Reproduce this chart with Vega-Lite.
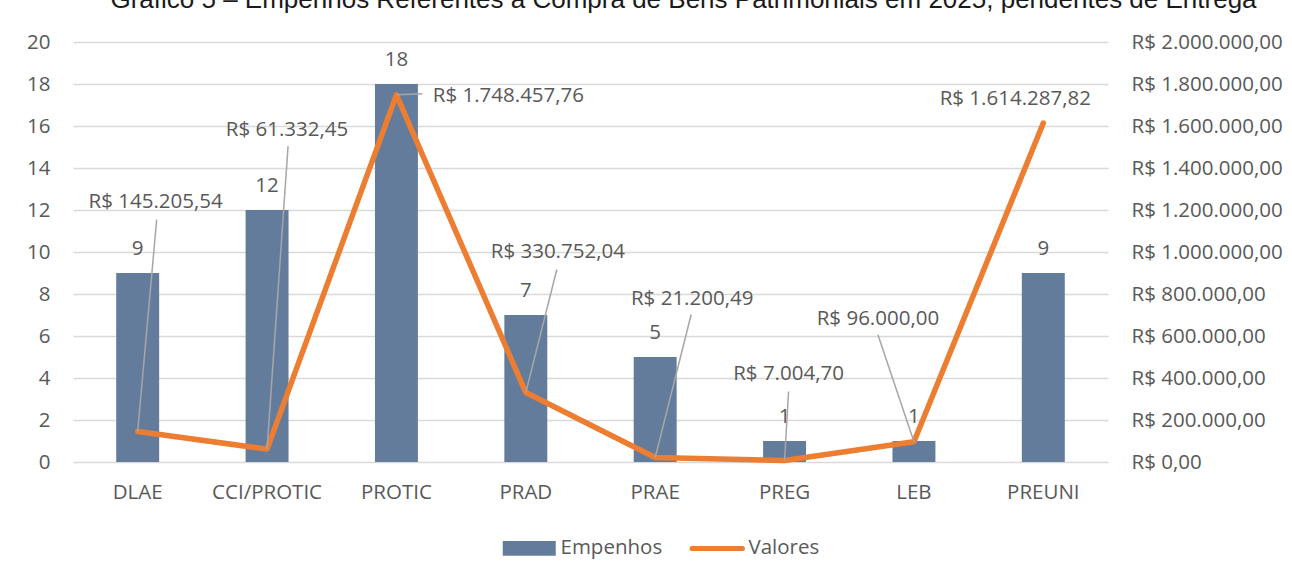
{
  "$schema": "https://vega.github.io/schema/vega-lite/v6.json",
  "width": 1035,
  "height": 420,
  "autosize": "none",
  "padding": {"left": 73, "top": 42, "right": 184, "bottom": 114},
  "config": {
    "locale": {"number": {"decimal": ",", "thousands": ".", "grouping": [3], "currency": ["R$ ", ""]}},
    "font": "Open Sans",
    "view": {"stroke": null},
    "axis": {"labelFont": "Open Sans", "labelFontSize": 20.5, "labelColor": "#595959", "domain": false, "ticks": false, "title": null}
  },
  "title": {
    "text": "Gráfico 5 – Empenhos Referentes à Compra de Bens Patrimoniais em 2025, pendentes de Entrega",
    "font": "Liberation Sans",
    "fontSize": 26,
    "fontWeight": "normal",
    "color": "#1a1a1a",
    "anchor": "middle",
    "frame": "group",
    "baseline": "alphabetic",
    "offset": -2,
    "dx": 93
  },
  "data": {
    "values": [
      {"categoria": "DLAE", "empenhos": 9, "valor": 145205.54},
      {"categoria": "CCI/PROTIC", "empenhos": 12, "valor": 61332.45},
      {"categoria": "PROTIC", "empenhos": 18, "valor": 1748457.76},
      {"categoria": "PRAD", "empenhos": 7, "valor": 330752.04},
      {"categoria": "PRAE", "empenhos": 5, "valor": 21200.49},
      {"categoria": "PREG", "empenhos": 1, "valor": 7004.70},
      {"categoria": "LEB", "empenhos": 1, "valor": 96000.00},
      {"categoria": "PREUNI", "empenhos": 9, "valor": 1614287.82}
    ]
  },
  "encoding": {
    "x": {
      "field": "categoria", "type": "nominal", "sort": null,
      "scale": {"paddingInner": 0.668, "paddingOuter": 0.334},
      "axis": {"labelAngle": 0, "labelPadding": 20, "grid": false}
    }
  },
  "layer": [
    {
      "encoding": {
        "y": {
          "field": "empenhos", "type": "quantitative",
          "scale": {"domain": [0, 20], "nice": false},
          "axis": {"orient": "left", "values": [0, 2, 4, 6, 8, 10, 12, 14, 16, 18, 20], "grid": true, "gridColor": "#d9d9d9", "gridWidth": 1.5, "labelPadding": 23}
        }
      },
      "layer": [
        {
          "mark": {"type": "bar"},
          "encoding": {
            "color": {
              "datum": "Empenhos",
              "scale": {"domain": ["Empenhos", "Valores"], "range": ["#647C9C", "#ED7D31"]},
              "legend": {
                "title": null,
                "orient": "none",
                "legendX": 446,
                "legendY": 496,
                "direction": "horizontal",
                "symbolSize": 2809,
                "labelFont": "Open Sans",
                "labelFontSize": 20.5,
                "labelColor": "#595959",
                "labelOffset": 21,
                "columnPadding": 19,
                "encode": {
                  "symbols": {
                    "update": {
                      "shape": {"signal": "datum.value === 'Empenhos' ? 'M-1,-0.28H1V0.28H-1Z' : 'M-0.95,0H0.95'"},
                      "fill": {"signal": "datum.value === 'Empenhos' ? '#647C9C' : 'transparent'"},
                      "stroke": {"signal": "datum.value === 'Empenhos' ? 'transparent' : '#ED7D31'"},
                      "strokeWidth": {"signal": "datum.value === 'Empenhos' ? 0 : 5"},
                      "strokeCap": {"value": "round"},
                      "opacity": {"value": 1},
                      "fillOpacity": {"value": 1},
                      "strokeOpacity": {"value": 1}
                    }
                  }
                }
              }
            }
          }
        },
        {
          "mark": {"type": "text", "font": "Open Sans", "fontSize": 20.5, "color": "#595959", "baseline": "alphabetic", "dy": -18},
          "encoding": {"text": {"field": "empenhos", "type": "quantitative"}}
        }
      ]
    },
    {
      "encoding": {
        "y": {
          "field": "valor", "type": "quantitative",
          "scale": {"domain": [0, 2000000], "nice": false},
          "axis": {"orient": "right", "values": [0, 200000, 400000, 600000, 800000, 1000000, 1200000, 1400000, 1600000, 1800000, 2000000], "format": "$,.2f", "grid": false, "labelPadding": 23}
        }
      },
      "layer": [
        {
          "mark": {"type": "line", "strokeWidth": 5.5, "strokeCap": "round", "strokeJoin": "round"},
          "encoding": {
            "x": {"field": "categoria", "type": "nominal", "sort": null, "bandPosition": 0.5},
            "color": {"datum": "Valores"}
          }
        },
        {
          "transform": [{"filter": "datum.categoria != 'PREUNI'"}],
          "mark": {
            "type": "rule", "color": "#A6A6A6", "strokeWidth": 1.5,
            "x2Offset": {"expr": "{'DLAE':19,'CCI/PROTIC':21,'PROTIC':26,'PRAD':31,'PRAE':36,'PREG':4,'LEB':-36}[datum.categoria]"},
            "y2Offset": {"expr": "{'DLAE':-212,'CCI/PROTIC':-303,'PROTIC':-1,'PRAD':-123,'PRAE':-143,'PREG':-69,'LEB':-107}[datum.categoria]"}
          },
          "encoding": {
            "x": {"field": "categoria", "type": "nominal", "sort": null, "bandPosition": 0.5},
            "x2": {"field": "categoria", "bandPosition": 0.5},
            "y2": {"field": "valor"}
          }
        },
        {
          "mark": {
            "type": "text", "font": "Open Sans", "fontSize": 20.5, "color": "#595959", "baseline": "alphabetic",
            "dx": {"expr": "{'DLAE':18,'CCI/PROTIC':20,'PROTIC':112,'PRAD':32,'PRAE':37,'PREG':4,'LEB':-36,'PREUNI':-28}[datum.categoria]"},
            "dy": {"expr": "{'DLAE':-224,'CCI/PROTIC':-313,'PROTIC':7,'PRAD':-135,'PRAE':-153,'PREG':-81,'LEB':-117,'PREUNI':-18}[datum.categoria]"}
          },
          "encoding": {
            "x": {"field": "categoria", "type": "nominal", "sort": null, "bandPosition": 0.5},
            "text": {"field": "valor", "type": "quantitative", "format": "$,.2f"}
          }
        }
      ]
    }
  ],
  "resolve": {"scale": {"y": "independent"}}
}
